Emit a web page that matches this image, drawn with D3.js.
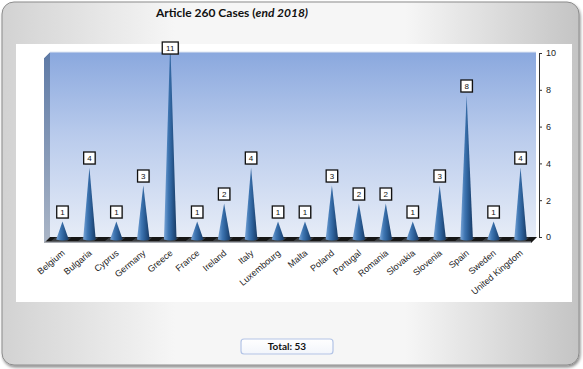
<!DOCTYPE html>
<html><head><meta charset="utf-8">
<script src="https://cdn.jsdelivr.net/npm/d3@7"></script>
<style>html,body{margin:0;padding:0;background:#fff;}svg{display:block;}</style>
</head><body>
<script>
const categories = ["Belgium","Bulgaria","Cyprus","Germany","Greece","France","Ireland","Italy","Luxembourg","Malta","Poland","Portugal","Romania","Slovakia","Slovenia","Spain","Sweden","United Kingdom"];
const values = [1,4,1,3,11,1,2,4,1,1,3,2,2,1,3,8,1,4];
const yTicks = [0,2,4,6,8,10];
const titleMain = "Article 260 Cases (";
const titleItalic = "end 2018)";
const totalLabel = "Total: " + d3.sum(values);

const W = 583, H = 369;
const svg = d3.select("body").append("svg").attr("width", W).attr("height", H);
const defs = svg.append("defs");

// gradients
const gFrame = defs.append("linearGradient").attr("id","gFrame").attr("x1","0").attr("x2","1").attr("y1","0").attr("y2","0");
[[0,"#d2d2d2"],[0.3,"#f6f6f6"],[0.7,"#f6f6f6"],[1,"#c4c4c4"]].forEach(s=>gFrame.append("stop").attr("offset",s[0]).attr("stop-color",s[1]));
const gWall = defs.append("linearGradient").attr("id","gWall").attr("x1","0").attr("x2","0").attr("y1","0").attr("y2","1");
[[0,"#8aa8de"],[0.45,"#b9cbec"],[1,"#e6ecf7"]].forEach(s=>gWall.append("stop").attr("offset",s[0]).attr("stop-color",s[1]));
const gSide = defs.append("linearGradient").attr("id","gSide").attr("x1","0").attr("x2","0").attr("y1","0").attr("y2","1");
[[0,"#5e7aa6"],[1,"#aab5c6"]].forEach(s=>gSide.append("stop").attr("offset",s[0]).attr("stop-color",s[1]));
const gCone = defs.append("linearGradient").attr("id","gCone").attr("x1","0").attr("x2","1").attr("y1","0").attr("y2","0");
[[0,"#7aa6d8"],[0.35,"#3f76b2"],[0.6,"#2c5f98"],[1,"#183a64"]].forEach(s=>gCone.append("stop").attr("offset",s[0]).attr("stop-color",s[1]));
const gTotal = defs.append("linearGradient").attr("id","gTotal").attr("x1","0").attr("x2","0").attr("y1","0").attr("y2","1");
[[0,"#ffffff"],[1,"#f2f5fb"]].forEach(s=>gTotal.append("stop").attr("offset",s[0]).attr("stop-color",s[1]));
const sh = defs.append("filter").attr("id","shadow").attr("x","-5%").attr("y","-5%").attr("width","110%").attr("height","115%");
sh.append("feDropShadow").attr("dx",1).attr("dy",2).attr("stdDeviation",1.5).attr("flood-color","#000").attr("flood-opacity",0.45);

// frame
svg.append("rect").attr("x",2).attr("y",2).attr("width",577).attr("height",363).attr("rx",12)
  .attr("fill","url(#gFrame)").attr("stroke","#8c8c8c").attr("stroke-width",1).attr("filter","url(#shadow)");
svg.append("rect").attr("x",16).attr("y",44).attr("width",556).attr("height",258).attr("fill","#fff");

// title
const title = svg.append("text").attr("x",232).attr("y",17).attr("text-anchor","middle")
  .attr("font-family","Lato, 'Open Sans', sans-serif").attr("font-weight","bold").attr("font-size",12).attr("fill","#111");
title.append("tspan").text(titleMain);
title.append("tspan").attr("font-style","italic").text(titleItalic);

// scales
const plotL = 49, plotR = 536, plotT = 53, base0 = 237;
const x = d3.scaleBand().domain(categories).range([plotL, plotR - 2]).padding(0);
const yAxisScale = d3.scaleLinear().domain([0,10]).range([base0, plotT]);
const yCone = d3.scaleLinear().domain([0,10]).range([239.5, 59.5]);

// back wall
svg.append("rect").attr("x",plotL+1).attr("y",plotT-1).attr("width",plotR-plotL-1).attr("height",base0-plotT+1).attr("fill","url(#gWall)");
svg.append("line").attr("x1",plotL+1).attr("x2",plotR).attr("y1",plotT-1).attr("y2",plotT-1).attr("stroke","#dfe6f2").attr("stroke-width",1);
// side wall
svg.append("path").attr("d",`M${plotL+1},${plotT-1} L${plotL-5},${plotT+5} L${plotL-5},${base0+6} L${plotL+1},${base0} Z`).attr("fill","url(#gSide)");
svg.append("path").attr("d",`M${plotL+1},${plotT-1} L${plotL-5},${plotT+5}`).attr("stroke","#d8dee8").attr("stroke-width",1);

// floor
svg.append("path").attr("d",`M${plotL+1},${base0} L${plotR+1},${base0} L${plotR-5},${base0+6} L${plotL-5},${base0+6} Z`).attr("fill","#161616");
svg.append("path").attr("d",`M${plotL-5},${base0+5.3} L${plotR-5},${base0+5.3}`).attr("stroke","#a7abb2").attr("stroke-width",1.6);
svg.append("path").attr("d",`M${plotR+1},${base0} L${plotR-5},${base0+6}`).attr("stroke","#777").attr("stroke-width",1);
// lighter floor patches under each category (between the dark gaps)
svg.append("g").selectAll("path").data(categories).join("path")
  .attr("d", c => {
    const cx = x(c) + x.bandwidth()/2;
    return `M${cx-7},${base0+0.5} L${cx+9},${base0+0.5} L${cx+4},${base0+4.5} L${cx-12},${base0+4.5} Z`;
  }).attr("fill","#5a5e66").attr("opacity",0.55);

// clip for cones
defs.append("clipPath").attr("id","plotClip").append("rect").attr("x",plotL-6).attr("y",plotT+1).attr("width",plotR-plotL+10).attr("height",200);

// cones
const cones = svg.append("g").attr("clip-path","url(#plotClip)");
cones.selectAll("path").data(values).join("path")
  .attr("d",(v,i) => {
    const cx = x(categories[i]) + x.bandwidth()/2;
    const b = yCone(0), p = yCone(v), hw = 6.3;
    return `M${cx-hw},${b} L${cx},${p} L${cx+hw},${b} Q${cx},${b+2.2} ${cx-hw},${b} Z`;
  }).attr("fill","url(#gCone)");

// value labels
const lab = svg.append("g");
values.forEach((v,i) => {
  const cx = x(categories[i]) + x.bandwidth()/2;
  const bottom = Math.max(yCone(v) - 3.5, plotT + 1);
  const txt = String(v);
  const w = txt.length > 1 ? 16 : 11.5, h = 12;
  lab.append("rect").attr("x",cx - w/2 + 1).attr("y",bottom - h + 1).attr("width",w).attr("height",h).attr("fill","#777").attr("opacity",0.4);
  lab.append("rect").attr("x",cx - w/2).attr("y",bottom - h).attr("width",w).attr("height",h)
    .attr("fill","#fff").attr("stroke","#111").attr("stroke-width",1.3);
  lab.append("text").attr("x",cx).attr("y",bottom - h/2 + 3).attr("text-anchor","middle")
    .attr("font-family","'Liberation Sans', Arial, sans-serif").attr("font-size",8).attr("fill","#111").text(txt);
});

// right axis
const axisG = svg.append("g").attr("transform",`translate(${plotR+3},0)`);
axisG.call(d3.axisRight(yAxisScale).tickValues(yTicks).tickSize(3).tickPadding(4));
axisG.select(".domain").attr("stroke","#333");
axisG.selectAll(".tick line").attr("stroke","#333");
axisG.selectAll("text").attr("font-family","'Liberation Sans', Arial, sans-serif").attr("font-size",9).attr("fill","#222");

// x labels
svg.append("g").selectAll("text").data(categories).join("text")
  .attr("transform", c => `translate(${x(c) + x.bandwidth()/2 + 3},${254}) rotate(-40)`)
  .attr("text-anchor","end")
  .attr("font-family","'Liberation Sans', Arial, sans-serif").attr("font-size",9).attr("fill","#222")
  .text(c => c);

// total box
svg.append("rect").attr("x",241).attr("y",339).attr("width",92).attr("height",15).attr("rx",3)
  .attr("fill","url(#gTotal)").attr("stroke","#b3c4e6").attr("stroke-width",1.2);
svg.append("text").attr("x",287).attr("y",350).attr("text-anchor","middle")
  .attr("font-family","Lato, 'Open Sans', sans-serif").attr("font-weight","bold").attr("font-size",10).attr("fill","#111")
  .text(totalLabel);
</script>
</body></html>
